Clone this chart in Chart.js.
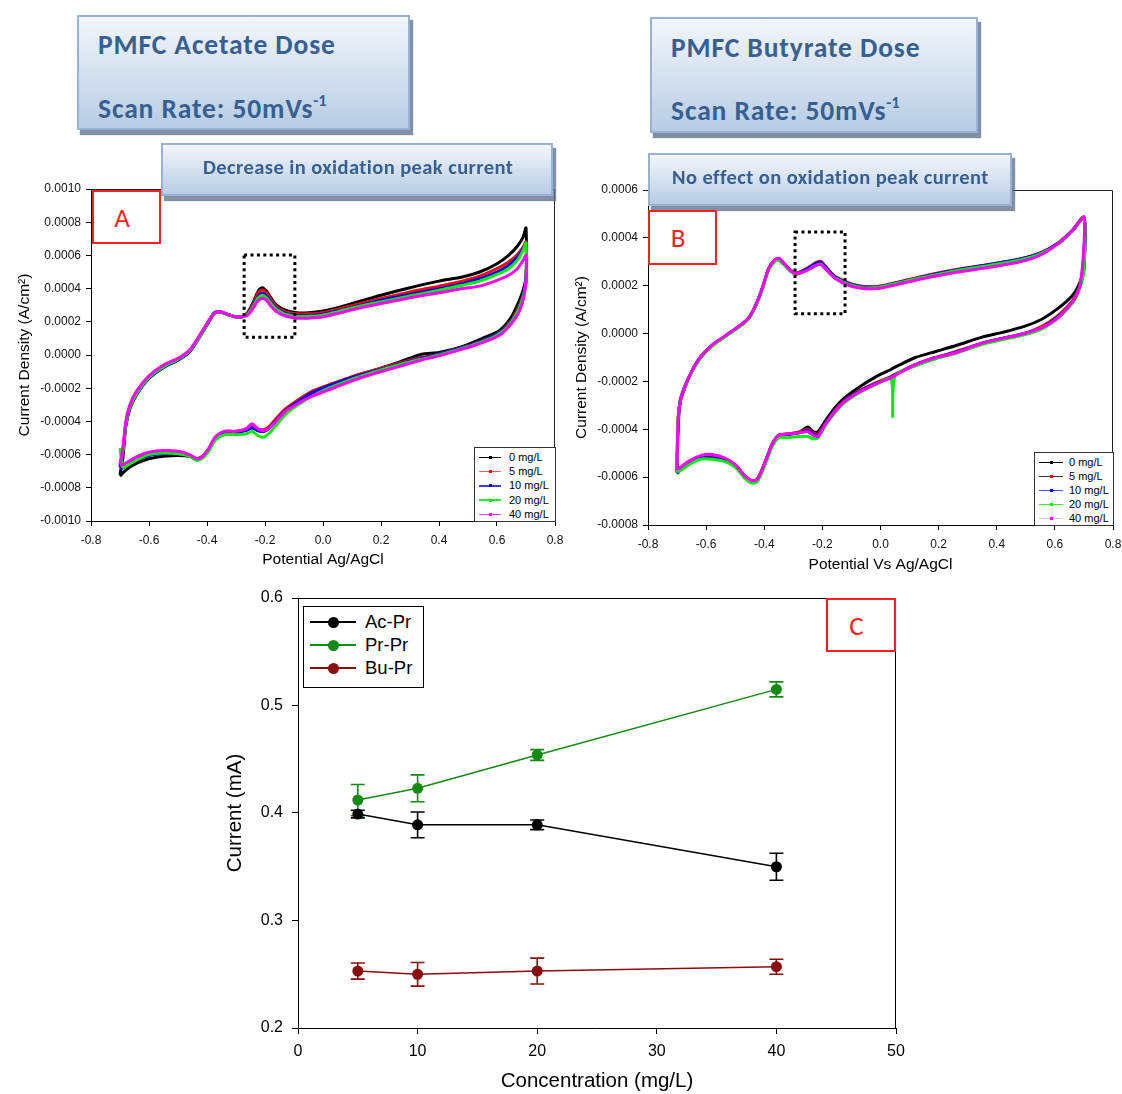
<!DOCTYPE html>
<html>
<head>
<meta charset="utf-8">
<title>PMFC cyclic voltammetry and oxidation peak current</title>
<script src="https://cdn.jsdelivr.net/npm/chart.js@4.4.1/dist/chart.umd.min.js"></script>
<style>
  body { margin:0; width:1122px; height:1094px; position:relative; overflow:hidden; background:#fff;
         font-family:'Liberation Sans', Arial, sans-serif; }
  canvas { position:absolute; }
  .note { position:absolute; box-sizing:border-box; border:2px solid #95b3d7;
          background:linear-gradient(#f3f6fb, #b8cce4);
          box-shadow:3px 5px 1px rgba(100,115,140,.8); }
  .noteText { position:absolute; white-space:nowrap; line-height:1; color:#376092;
              font-family:Carlito, Lato, 'Open Sans', sans-serif; font-weight:700; }
  .big { font-size:27.5px; letter-spacing:0.9px; }
  .small { font-size:20.5px; letter-spacing:0.42px; }
  .noteText sup { font-size:60%; position:relative; top:-0.1em; letter-spacing:0; }
  .tag { position:absolute; box-sizing:border-box; border:2px solid #ff1f1f; background:#fff; color:#ff1f1f;
         font-family:Carlito, Lato, sans-serif; font-size:27px; display:flex; align-items:center; justify-content:center;
         padding-right:9px; }
  .legend { position:absolute; box-sizing:border-box; background:#fff; }
  .legend div, .legend span { position:absolute; }
  .legend span { white-space:nowrap; line-height:1; color:#000; }
</style>
</head>
<body>
<canvas id="cvA" width="570" height="400" style="left:0px;top:180px"></canvas>
<canvas id="cvB" width="552" height="400" style="left:570px;top:180px"></canvas>
<canvas id="cvC" width="700" height="504" style="left:220px;top:590px"></canvas>

<div class="note" style="left:77px;top:15px;width:333px;height:115px"></div>
<div class="noteText big" style="left:98px;top:31px">PMFC Acetate Dose</div>
<div class="noteText big" style="left:98px;top:94px">Scan Rate: 50mVs<sup>-1</sup></div>

<div class="note" style="left:650px;top:17px;width:328px;height:116px"></div>
<div class="noteText big" style="left:671px;top:34px">PMFC Butyrate Dose</div>
<div class="noteText big" style="left:671px;top:96px">Scan Rate: 50mVs<sup>-1</sup></div>

<div class="note" style="left:161px;top:143px;width:392px;height:53px"></div>
<div class="noteText small" style="left:203px;top:157px">Decrease in oxidation peak current</div>

<div class="note" style="left:648px;top:153px;width:364px;height:53px"></div>
<div class="noteText small" style="left:672px;top:167px">No effect on oxidation peak current</div>

<div class="tag" style="left:92px;top:190px;width:69px;height:54px">A</div>
<div class="tag" style="left:648px;top:210px;width:69px;height:55px">B</div>
<div class="tag" style="left:826px;top:598px;width:70px;height:54px">C</div>

<div id="legA" class="legend" style="left:474px;top:447px;width:82px;height:75px;border:1px solid #333"></div>
<div id="legB" class="legend" style="left:1034px;top:452px;width:80px;height:74px;border:1px solid #333"></div>
<div id="legC" class="legend" style="left:303px;top:606px;width:121px;height:82px;border:1.5px solid #000"></div>

<script>
// ---------------------------------------------------------------
// Cyclic voltammograms: potential path (V vs Ag/AgCl) of one cycle,
// forward scan -0.7 -> 0.7 V, then reverse scan back to -0.7 V.
// Current densities are listed in units of 1e-4 A/cm2.
// ---------------------------------------------------------------
const CURRENT_UNIT = 1e-4;

const doseLabels = ['0 mg/L', '5 mg/L', '10 mg/L', '20 mg/L', '40 mg/L'];

// Panel A: acetate dose
const potentialA = [
  -0.700, -0.690, -0.680, -0.665, -0.640, -0.600, -0.550, -0.500, -0.460, -0.425,
  -0.395, -0.375, -0.355, -0.330, -0.300, -0.280, -0.260, -0.240, -0.225, -0.210,
  -0.195, -0.180, -0.160, -0.130, -0.090, -0.050, 0.000, 0.060, 0.130, 0.200,
  0.300, 0.400, 0.480, 0.540, 0.600, 0.640, 0.670, 0.690, 0.700,
  0.700, 0.690, 0.675, 0.650, 0.610, 0.550, 0.480, 0.400, 0.340, 0.260,
  0.180, 0.100, 0.020, -0.040, -0.090, -0.130, -0.160, -0.185, -0.205, -0.225,
  -0.245, -0.265, -0.300, -0.340, -0.370, -0.395, -0.415, -0.435, -0.460, -0.500,
  -0.550, -0.600, -0.640, -0.670, -0.690, -0.700
];
const acetate0mg = [
  -7.2, -6.2, -4.3, -3.2, -2.3, -1.4, -0.75, -0.3, 0.2, 1.1,
  1.95, 2.5, 2.6, 2.45, 2.3, 2.3, 2.55, 3.2, 3.8, 4.05,
  3.85, 3.45, 3.0, 2.7, 2.55, 2.55, 2.65, 2.9, 3.25, 3.6,
  4.05, 4.45, 4.7, 5.0, 5.5, 6.0, 6.55, 7.1, 7.65,
  4.7, 3.9, 3.2, 2.3, 1.5, 1.0, 0.5, 0.15, 0.05, -0.45,
  -0.9, -1.35, -1.95, -2.4, -2.95, -3.4, -3.95, -4.4, -4.6, -4.55,
  -4.35, -4.5, -4.65, -4.65, -5.0, -5.7, -6.1, -6.25, -6.1, -6.05,
  -6.1, -6.25, -6.5, -6.8, -7.1, -7.3
];
const acetate5mg = [
  -6.8, -5.9, -4.2, -3.1, -2.25, -1.35, -0.7, -0.25, 0.25, 1.15,
  2.0, 2.5, 2.6, 2.45, 2.3, 2.3, 2.5, 3.1, 3.7, 3.92,
  3.75, 3.35, 2.9, 2.6, 2.48, 2.48, 2.55, 2.8, 3.1, 3.4,
  3.8, 4.15, 4.45, 4.75, 5.2, 5.6, 6.05, 6.5, 6.8,
  4.5, 3.6, 2.9, 2.1, 1.35, 0.85, 0.45, 0.05, -0.15, -0.5,
  -0.9, -1.3, -1.8, -2.2, -2.75, -3.25, -3.8, -4.3, -4.5, -4.45,
  -4.15, -4.45, -4.6, -4.6, -5.0, -5.7, -6.1, -6.25, -6.05, -5.9,
  -5.85, -5.95, -6.25, -6.55, -6.75, -6.3
];
const acetate10mg = [
  -6.7, -5.8, -4.2, -3.15, -2.3, -1.4, -0.75, -0.3, 0.2, 1.1,
  2.0, 2.55, 2.6, 2.45, 2.3, 2.3, 2.45, 3.0, 3.5, 3.72,
  3.55, 3.2, 2.8, 2.5, 2.38, 2.38, 2.45, 2.7, 3.0, 3.3,
  3.65, 4.0, 4.3, 4.6, 5.0, 5.4, 5.9, 6.4, 6.65,
  4.5, 3.55, 2.8, 2.05, 1.35, 0.85, 0.45, 0.05, -0.2, -0.55,
  -0.95, -1.35, -1.85, -2.3, -2.85, -3.35, -3.9, -4.4, -4.6, -4.55,
  -4.4, -4.55, -4.65, -4.65, -5.0, -5.75, -6.15, -6.3, -6.1, -5.95,
  -5.95, -6.05, -6.3, -6.6, -6.8, -6.85
];
const acetate20mg = [
  -6.6, -5.8, -4.2, -3.1, -2.25, -1.35, -0.7, -0.25, 0.25, 1.1,
  2.0, 2.5, 2.6, 2.45, 2.3, 2.3, 2.45, 2.95, 3.4, 3.6,
  3.45, 3.1, 2.75, 2.45, 2.33, 2.33, 2.4, 2.65, 2.95, 3.2,
  3.55, 3.9, 4.2, 4.45, 4.85, 5.2, 5.7, 6.3, 6.75,
  4.4, 3.5, 2.75, 2.0, 1.3, 0.8, 0.4, 0.0, -0.25, -0.6,
  -1.0, -1.45, -2.0, -2.5, -3.05, -3.6, -4.2, -4.7, -4.95, -4.85,
  -4.6, -4.75, -4.8, -4.8, -5.1, -5.8, -6.2, -6.35, -6.1, -5.95,
  -5.9, -6.0, -6.3, -6.6, -6.75, -5.6
];
const acetate40mg = [
  -6.6, -5.6, -4.0, -2.95, -2.1, -1.25, -0.6, -0.2, 0.3, 1.2,
  2.05, 2.5, 2.62, 2.45, 2.3, 2.3, 2.4, 2.85, 3.25, 3.42,
  3.3, 2.95, 2.6, 2.35, 2.22, 2.22, 2.3, 2.55, 2.85, 3.1,
  3.45, 3.75, 4.0, 4.15, 4.5, 4.8, 5.2, 5.7, 6.0,
  4.4, 3.3, 2.55, 1.9, 1.2, 0.75, 0.35, -0.05, -0.3, -0.7,
  -1.1, -1.55, -2.1, -2.5, -2.95, -3.4, -3.95, -4.4, -4.55, -4.45,
  -4.15, -4.45, -4.6, -4.6, -4.9, -5.65, -6.1, -6.25, -6.0, -5.8,
  -5.75, -5.85, -6.1, -6.4, -6.6, -6.6
];

// Panel B: butyrate dose
const potentialB = [
  -0.700, -0.697, -0.690, -0.675, -0.650, -0.620, -0.580, -0.545, -0.510, -0.475,
  -0.450, -0.425, -0.405, -0.385, -0.365, -0.350, -0.330, -0.310, -0.290, -0.265,
  -0.240, -0.220, -0.205, -0.185, -0.160, -0.130, -0.100, -0.060, -0.010, 0.050,
  0.140, 0.260, 0.380, 0.480, 0.550, 0.610, 0.660, 0.700,
  0.700, 0.688, 0.670, 0.645, 0.605, 0.555, 0.495, 0.420, 0.350, 0.260,
  0.190, 0.120, 0.050, 0.042, 0.036, -0.015, -0.075, -0.125, -0.160, -0.190,
  -0.215, -0.232, -0.250, -0.280, -0.320, -0.350, -0.372, -0.390, -0.408, -0.425,
  -0.443, -0.467, -0.498, -0.535, -0.580, -0.620, -0.655, -0.685, -0.700
];
const butyrate0mg = [
  -5.8, -3.8, -2.9, -2.3, -1.6, -1.0, -0.5, -0.2, 0.1, 0.4,
  0.7, 1.3, 1.95, 2.7, 3.05, 3.13, 2.9, 2.65, 2.52, 2.62,
  2.78, 2.93, 2.97, 2.7, 2.4, 2.2, 2.05, 1.95, 1.95, 2.1,
  2.35, 2.65, 2.88, 3.1, 3.35, 3.75, 4.3, 4.86,
  2.7, 2.2, 1.75, 1.4, 1.0, 0.6, 0.3, 0.05, -0.15, -0.5,
  -0.75, -1.0, -1.4, -1.45, -1.5, -1.8, -2.25, -2.7, -3.15, -3.65,
  -4.1, -4.1, -3.9, -4.12, -4.2, -4.25, -4.6, -5.15, -5.7, -6.1,
  -6.15, -5.95, -5.55, -5.3, -5.2, -5.2, -5.35, -5.6, -5.75
];
const butyrate5mg = [
  -5.8, -3.7, -2.9, -2.3, -1.6, -1.0, -0.5, -0.2, 0.1, 0.4,
  0.7, 1.3, 1.95, 2.7, 3.05, 3.12, 2.9, 2.65, 2.52, 2.65,
  2.82, 2.98, 3.02, 2.75, 2.42, 2.22, 2.07, 1.97, 1.97, 2.12,
  2.38, 2.68, 2.9, 3.12, 3.37, 3.78, 4.32, 4.86,
  3.2, 2.1, 1.55, 1.15, 0.7, 0.3, 0.0, -0.2, -0.4, -0.75,
  -1.0, -1.3, -1.7, -1.75, -1.8, -2.05, -2.4, -2.8, -3.25, -3.75,
  -4.2, -4.15, -4.0, -4.12, -4.2, -4.25, -4.6, -5.15, -5.7, -6.1,
  -6.15, -5.95, -5.5, -5.25, -5.15, -5.15, -5.35, -5.6, -5.85
];
const butyrate10mg = [
  -5.8, -4.2, -2.85, -2.25, -1.6, -1.0, -0.5, -0.2, 0.1, 0.4,
  0.7, 1.3, 1.95, 2.7, 3.05, 3.1, 2.88, 2.62, 2.5, 2.63,
  2.8, 2.95, 2.98, 2.72, 2.4, 2.2, 2.05, 1.95, 1.95, 2.1,
  2.36, 2.66, 2.9, 3.12, 3.36, 3.76, 4.3, 4.86,
  2.8, 2.05, 1.5, 1.1, 0.65, 0.25, 0.0, -0.2, -0.4, -0.78,
  -1.0, -1.3, -1.72, -1.77, -1.82, -2.08, -2.42, -2.82, -3.28, -3.78,
  -4.25, -4.2, -4.05, -4.15, -4.22, -4.27, -4.62, -5.18, -5.75, -6.15,
  -6.2, -6.0, -5.55, -5.3, -5.2, -5.2, -5.4, -5.65, -5.85
];
const butyrate20mg = [
  -5.8, -3.6, -2.9, -2.3, -1.62, -1.02, -0.52, -0.22, 0.08, 0.38,
  0.68, 1.28, 1.92, 2.66, 3.0, 3.05, 2.85, 2.6, 2.47, 2.58,
  2.72, 2.86, 2.9, 2.66, 2.36, 2.16, 2.02, 1.92, 1.93, 2.08,
  2.33, 2.63, 2.86, 3.08, 3.33, 3.73, 4.28, 4.84,
  2.6, 2.0, 1.45, 1.05, 0.6, 0.2, -0.05, -0.25, -0.45, -0.82,
  -1.05, -1.35, -1.78, -3.47, -1.88, -2.12, -2.48, -2.9, -3.35, -3.85,
  -4.35, -4.4, -4.3, -4.3, -4.35, -4.35, -4.7, -5.25, -5.8, -6.2,
  -6.25, -6.05, -5.6, -5.35, -5.25, -5.25, -5.45, -5.7, -5.8
];
const butyrate40mg = [
  -5.7, -3.7, -2.9, -2.28, -1.58, -0.98, -0.48, -0.18, 0.12, 0.42,
  0.72, 1.32, 1.97, 2.72, 3.08, 3.15, 2.9, 2.63, 2.5, 2.58,
  2.72, 2.86, 2.88, 2.64, 2.34, 2.12, 1.98, 1.88, 1.88, 2.03,
  2.28, 2.56, 2.78, 3.0, 3.28, 3.75, 4.3, 4.86,
  3.7, 2.1, 1.5, 1.1, 0.6, 0.25, 0.0, -0.2, -0.4, -0.8,
  -1.0, -1.3, -1.75, -1.8, -1.85, -2.1, -2.45, -2.85, -3.3, -3.8,
  -4.3, -4.25, -4.1, -4.15, -4.2, -4.25, -4.6, -5.15, -5.7, -6.1,
  -6.15, -5.95, -5.5, -5.2, -5.05, -5.1, -5.3, -5.55, -5.7
];

// Highlighted oxidation-peak windows (potential, current density)
const peakWindowA = { x0: -0.272, x1: -0.097, y0: 0.000602, y1: 0.000107 };
const peakWindowB = { x0: -0.294, x1: -0.122, y0: 0.000425, y1: 0.000083 };

// Panel C: oxidation peak current vs concentration
const concentrations = [5, 10, 20, 40];
const acPrCurrent = [0.399, 0.389, 0.389, 0.350];
const acPrError   = [0.0035, 0.012, 0.0045, 0.0125];
const prPrCurrent = [0.412, 0.423, 0.454, 0.515];
const prPrError   = [0.0145, 0.0125, 0.005, 0.007];
const buPrCurrent = [0.253, 0.250, 0.253, 0.257];
const buPrError   = [0.0075, 0.011, 0.012, 0.007];
const panelCNames = ['Ac-Pr', 'Pr-Pr', 'Bu-Pr'];

// ---------------- styling ----------------
const doseColors = ['#000000', '#ff0000', '#0000ff', '#00ee00', '#ff00ff'];
const legendLinesA = ['#000000', '#ff5a5a', '#3a3aff', '#22ee22', '#ff40ff'];
const legendLinesB = ['#000000', '#333333', '#4a4aff', '#33ee33', '#cfcfcf'];
const panelCColors = ['#000000', '#138a13', '#8a0c0c'];
const FONT = "'Liberation Sans', Arial, sans-serif";

// Closes the plot box with top and right frame lines
const framePlugin = {
  id: 'frame',
  afterDatasetsDraw(chart, args, opts) {
    const { ctx, chartArea: a } = chart;
    ctx.save();
    ctx.strokeStyle = opts.color || '#000';
    ctx.lineWidth = 1;
    ctx.beginPath();
    const t = Math.round(a.top) + 0.5, r = Math.round(a.right) - 0.5;
    ctx.moveTo(a.left, t); ctx.lineTo(r, t); ctx.lineTo(r, a.bottom);
    ctx.stroke();
    ctx.restore();
  }
};

// Dotted rectangle around the oxidation peak
const windowPlugin = {
  id: 'peakWindow',
  afterDatasetsDraw(chart, args, opts) {
    if (!opts || opts.x0 === undefined) return;
    const { ctx, scales: { x, y } } = chart;
    const l = x.getPixelForValue(opts.x0), r = x.getPixelForValue(opts.x1);
    const t = y.getPixelForValue(opts.y0), b = y.getPixelForValue(opts.y1);
    ctx.save();
    ctx.strokeStyle = '#000';
    ctx.lineWidth = 3;
    ctx.setLineDash([3, 3.4]);
    ctx.strokeRect(l, t, r - l, b - t);
    ctx.restore();
  }
};

// Vertical error bars with caps, drawn from each dataset's `errors`
const errorBarPlugin = {
  id: 'errorBars',
  beforeDatasetsDraw(chart) {
    const { ctx, scales: { x, y } } = chart;
    chart.data.datasets.forEach((ds) => {
      if (!ds.errors) return;
      ctx.save();
      ctx.strokeStyle = ds.borderColor;
      ctx.lineWidth = 1.6;
      ds.data.forEach((p, i) => {
        const px = x.getPixelForValue(p.x);
        const hi = y.getPixelForValue(p.y + ds.errors[i]);
        const lo = y.getPixelForValue(p.y - ds.errors[i]);
        ctx.beginPath();
        ctx.moveTo(px, hi); ctx.lineTo(px, lo);
        ctx.moveTo(px - 7, hi); ctx.lineTo(px + 7, hi);
        ctx.moveTo(px - 7, lo); ctx.lineTo(px + 7, lo);
        ctx.stroke();
      });
      ctx.restore();
    });
  }
};

function axisStyle(tickFont, tickLen, pad) {
  return {
    grid: { display: true, drawOnChartArea: false, drawTicks: true, tickLength: tickLen, color: '#000', lineWidth: 1 },
    border: { display: true, color: '#000', width: 1 },
    ticks: { color: '#111', font: { family: FONT, size: tickFont }, padding: pad, maxRotation: 0, autoSkip: false }
  };
}

// Fixed axis box sizes; label overflow padding is not added on top of them
function fixWidth(w) { return (s) => { s.width = w; s.paddingTop = 0; s.paddingBottom = 0; }; }
function fixHeight(h) { return (s) => { s.height = h; s.paddingLeft = 0; s.paddingRight = 0; }; }

// Shift layout padding so the plot area lands on the wanted box
function pinPlotArea(chart, top, right) {
  const a = chart.chartArea, p = chart.options.layout.padding;
  p.top += top - a.top;
  p.right += (chart.width - right) - (chart.width - a.right);
  chart.update();
}

function cvChart(id, potentials, series, opt) {
  const datasets = series.map((cur, i) => ({
    label: doseLabels[i],
    data: potentials.map((v, k) => ({ x: v, y: cur[k] * CURRENT_UNIT })),
    showLine: true,
    borderColor: doseColors[i],
    backgroundColor: doseColors[i],
    borderWidth: 3,
    pointRadius: 0,
    tension: 0.25,
    order: series.length - 1 - i
  }));
  const xs = axisStyle(12, 5, 7), ys = axisStyle(12, 5, 5);
  xs.ticks.stepSize = 0.2;
  xs.ticks.callback = (v) => (Math.abs(v) < 1e-9 ? 0 : v).toFixed(1);
  ys.ticks.stepSize = 0.0002;
  ys.ticks.callback = (v) => (Math.abs(v) < 1e-12 ? 0 : v).toFixed(4);
  return new Chart(document.getElementById(id), {
    type: 'scatter',
    data: { datasets },
    plugins: [framePlugin, windowPlugin],
    options: {
      responsive: false, animation: false, events: [],
      layout: { autoPadding: false, padding: { top: opt.padTop, right: opt.padRight, left: 0, bottom: 0 } },
      plugins: { legend: { display: false }, tooltip: { enabled: false },
                 frame: { color: '#222' }, peakWindow: opt.window },
      scales: {
        x: Object.assign(xs, {
          type: 'linear', min: -0.8, max: 0.8,
          afterFit: fixHeight(opt.xHeight),
          title: { display: true, text: opt.xTitle, color: '#000', font: { family: FONT, size: 15.5 },
                   padding: { top: 0, bottom: opt.xTitlePad } }
        }),
        y: Object.assign(ys, {
          type: 'linear', min: opt.yMin, max: opt.yMax,
          afterFit: fixWidth(opt.yWidth),
          title: { display: true, text: 'Current Density (A/cm\u00B2)', color: '#000', font: { family: FONT, size: 15.5 },
                   padding: { top: opt.yTitlePad, bottom: 0 } }
        })
      }
    }
  });
}

const chartA = cvChart('cvA', potentialA,
  [acetate0mg, acetate5mg, acetate10mg, acetate20mg, acetate40mg],
  { padTop: 9, padRight: 15, xHeight: 59, yWidth: 91, yMin: -0.001, yMax: 0.001,
    xTitle: 'Potential Ag/AgCl', xTitlePad: 10.5, yTitlePad: 15.5, window: peakWindowA });
pinPlotArea(chartA, 9, 555);

const chartB = cvChart('cvB', potentialB,
  [butyrate0mg, butyrate5mg, butyrate10mg, butyrate20mg, butyrate40mg],
  { padTop: 10, padRight: 9, xHeight: 55, yWidth: 78, yMin: -0.0008, yMax: 0.0006,
    xTitle: 'Potential Vs Ag/AgCl', xTitlePad: 5.5, yTitlePad: 2.5, window: peakWindowB });
pinPlotArea(chartB, 10, 543);

// ---------------- panel C ----------------
const cSeries = [
  [acPrCurrent, acPrError],
  [prPrCurrent, prPrError],
  [buPrCurrent, buPrError]
];
const xC = axisStyle(16, 6, 8), yC = axisStyle(16, 6, 9);
xC.ticks.color = '#000'; yC.ticks.color = '#000';
xC.ticks.stepSize = 10;
yC.ticks.stepSize = 0.1;
yC.ticks.callback = (v) => v.toFixed(1);
const chartC = new Chart(document.getElementById('cvC'), {
  type: 'scatter',
  data: {
    datasets: cSeries.map(([vals, errs], i) => ({
      label: panelCNames[i],
      data: concentrations.map((c, k) => ({ x: c, y: vals[k] })),
      errors: errs,
      showLine: true,
      borderColor: panelCColors[i],
      backgroundColor: panelCColors[i],
      borderWidth: 1.5,
      pointRadius: 5.5,
      pointBorderWidth: 0,
      tension: 0
    }))
  },
  plugins: [framePlugin, errorBarPlugin],
  options: {
    responsive: false, animation: false, events: [],
    layout: { autoPadding: false, padding: { top: 8, right: 24, left: 0, bottom: 0 } },
    plugins: { legend: { display: false }, tooltip: { enabled: false }, frame: { color: '#000' } },
    scales: {
      x: Object.assign(xC, {
        type: 'linear', min: 0, max: 50,
        afterFit: fixHeight(66),
        title: { display: true, text: 'Concentration (mg/L)', color: '#000', font: { family: FONT, size: 20.5 },
                 padding: { top: 0, bottom: 0 } }
      }),
      y: Object.assign(yC, {
        type: 'linear', min: 0.2, max: 0.6,
        afterFit: fixWidth(78),
        title: { display: true, text: 'Current (mA)', color: '#000', font: { family: FONT, size: 20.5 },
                 padding: { top: 3.5, bottom: 0 } }
      })
    }
  }
});
pinPlotArea(chartC, 8, 676);

// ---------------- legends ----------------
function buildLegend(id, names, lineColors, dotColors, g) {
  const box = document.getElementById(id);
  names.forEach((name, i) => {
    const cy = g.first + g.step * i;
    const line = document.createElement('div');
    line.style.cssText = `left:${g.lineX0}px;top:${cy - g.lineW / 2}px;width:${g.lineX1 - g.lineX0}px;height:${g.lineW}px;background:${lineColors[i]}`;
    const dot = document.createElement('div');
    const d = g.dot * 2;
    dot.style.cssText = `left:${(g.lineX0 + g.lineX1) / 2 - g.dot}px;top:${cy - g.dot}px;width:${d}px;height:${d}px;background:${dotColors[i]};border-radius:${g.round ? '50%' : '0'}`;
    const txt = document.createElement('span');
    txt.textContent = name;
    txt.style.cssText = `left:${g.textX}px;top:${cy - g.font * 0.5}px;font-size:${g.font}px;font-family:${FONT}`;
    box.append(line, dot, txt);
  });
}
buildLegend('legA', doseLabels, legendLinesA, doseColors,
  { first: 9.5, step: 14.2, lineX0: 4, lineX1: 26, lineW: 1.4, dot: 1.5, textX: 34, font: 11 });
buildLegend('legB', doseLabels, legendLinesB, doseColors,
  { first: 9.5, step: 14, lineX0: 4, lineX1: 28, lineW: 1.4, dot: 1.5, textX: 34, font: 11 });
buildLegend('legC', panelCNames, panelCColors, panelCColors,
  { first: 15, step: 23, lineX0: 6, lineX1: 52, lineW: 1.5, dot: 5.5, textX: 61, font: 18.5, round: true });
</script>
</body>
</html>
